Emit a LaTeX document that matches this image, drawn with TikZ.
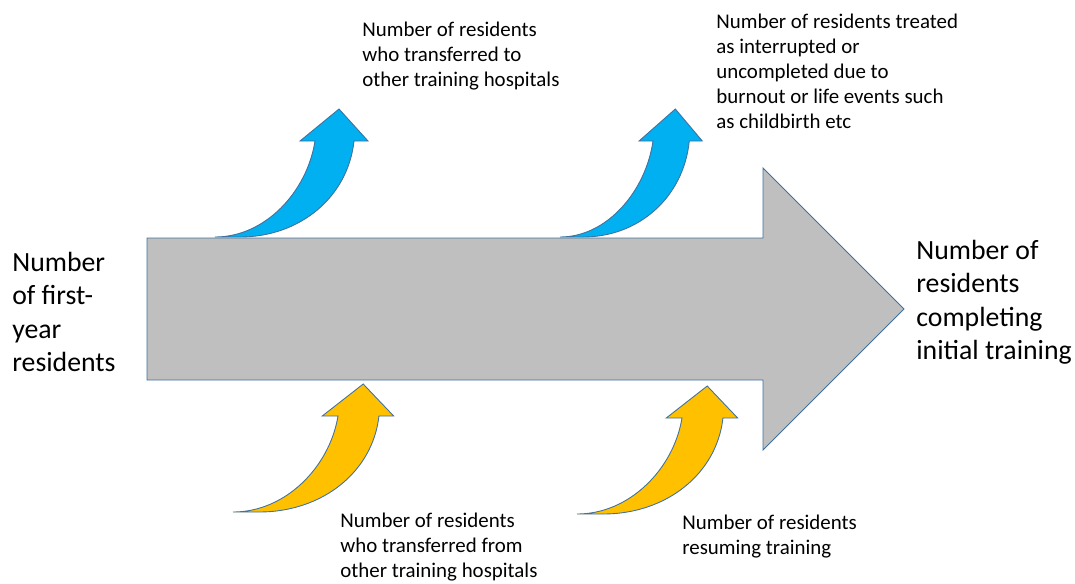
\documentclass[tikz,border=0pt]{standalone}
\usepackage{fontspec}
\setmainfont{Carlito}
\usepackage{tikz}
\definecolor{skyblue}{HTML}{00B0F0}
\definecolor{amber}{HTML}{FFC000}
\definecolor{flowgray}{HTML}{BFBFBF}
\definecolor{edgeblue}{HTML}{41719C}
\tikzstyle{flow}=[draw=edgeblue, line width=.5pt, fill=flowgray, line join=miter]
\tikzstyle{curlup}=[draw=edgeblue, line width=.5pt, line join=miter]
\tikzstyle{big}=[anchor=north west, inner sep=0, align=left,
                    font=\fontsize{15.8}{18.9}\selectfont]
\tikzstyle{small}=[anchor=north west, inner sep=0, align=left,
                    font=\fontsize{11.9}{14.2}\selectfont]

\begin{document}
\begin{tikzpicture}[x=0.02cm, y=-0.02cm]
    \useasboundingbox (0,0) rectangle (1075,583);
    \draw[flow] (147,238) -- (763,238) -- (763,168) -- (904,309) --
    (763,450) -- (763,380) -- (147,380) -- cycle;
    \foreach \x/\y/\s/\c in {215/237/1/skyblue, 560/237/0.93/skyblue,
          233/512/1.05/amber, 577/514/1.05/amber}
      \draw[curlup, fill=\c, shift={(\x,\y)}, xscale=\s] (0,0) ..
      controls (50,0) and (92,-45) .. (100,-96) -- (85,-96) -- (124,-128) --
      (153,-96) -- (139,-96) .. controls (133,-40) and (85,0) .. (25,0) -- cycle;
    \node[big] (first) at (12,252) {Number\\of first-\\year\\residents};
    \node[big] (complete) at (916,240) {Number of\\residents\\completing\\initial training};
    \node[small] (transout) at (362,22) {Number of residents\\who transferred to\\other training hospitals};
    \node[small] (dropout) at (716,14) {Number of residents treated\\as interrupted or\\uncompleted due to\\burnout or life events such\\as childbirth etc};
    \node[small] (transin) at (340,513) {Number of residents\\who transferred from\\other training hospitals};
    \node[small] (resume) at (682,515) {Number of residents\\resuming training};
\end{tikzpicture}
\end{document}
